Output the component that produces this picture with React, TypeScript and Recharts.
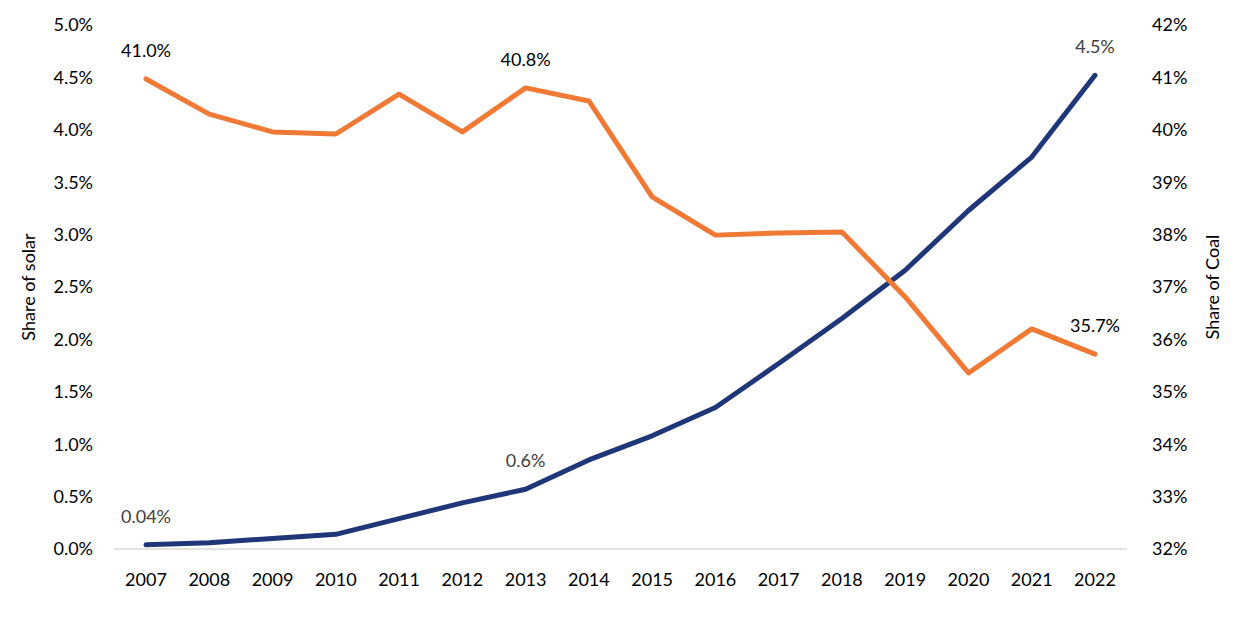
import { LabelList, Line, LineChart, XAxis, YAxis } from "recharts";

const years = ["2007", "2008", "2009", "2010", "2011", "2012", "2013", "2014", "2015", "2016", "2017", "2018", "2019", "2020", "2021", "2022"];
// share of solar, % (left axis)
const solar = [0.04, 0.06, 0.1, 0.14, 0.29, 0.44, 0.57, 0.85, 1.08, 1.35, 1.77, 2.2, 2.66, 3.23, 3.74, 4.52];
// share of coal, % (right axis)
const coal = [40.97, 40.3, 39.96, 39.92, 40.68, 39.96, 40.8, 40.55, 38.72, 37.99, 38.03, 38.05, 36.81, 35.36, 36.2, 35.72];
const solarNotes: Record<string, string> = { "2007": "0.04%", "2013": "0.6%", "2022": "4.5%" };
const coalNotes: Record<string, string> = { "2007": "41.0%", "2013": "40.8%", "2022": "35.7%" };
const solarTicks = [0, 0.5, 1, 1.5, 2, 2.5, 3, 3.5, 4, 4.5, 5];
const coalTicks = [32, 33, 34, 35, 36, 37, 38, 39, 40, 41, 42];

const data = years.map((y, i) => ({ year: y, solar: solar[i], coal: coal[i] }));

const FONT = "Lato, 'Open Sans', sans-serif";

function note(notes: Record<string, string>, fill: string) {
    return (p: any) => {
        const txt = notes[years[p.index]];
        if (!txt) return null;
        return (
            <text x={p.x} y={p.y - 22} textAnchor="middle" fontSize={18} fontFamily={FONT} fill={fill}>
                {txt}
            </text>
        );
    };
}

function axisTitle(text: string, dx: number) {
    return (p: any) => {
        const vb = p.viewBox;
        const cx = vb.x + dx;
        const cy = vb.y + vb.height / 2;
        return (
            <text x={cx} y={cy} transform={`rotate(-90 ${cx} ${cy})`} textAnchor="middle" dominantBaseline="central" fontSize={18} fontFamily={FONT} fill="#000">
                {text}
            </text>
        );
    };
}

export default function App() {
    return (
        <div style={{ width: 1242, height: 617, background: "#fff" }}>
            <style>{`body{margin:0}`}</style>
            <LineChart width={1242} height={617} data={data} margin={{ top: 25, right: 0, left: 0, bottom: 38 }}>
                <XAxis
                    dataKey="year"
                    height={30}
                    padding={{ left: 32, right: 32 }}
                    tickLine={false}
                    axisLine={{ stroke: "#D9D9D9", strokeWidth: 1.5 }}
                    tickMargin={18}
                    tick={{ fontSize: 18, fontFamily: FONT, fill: "#000" }}
                    interval={0}
                />
                <YAxis
                    yAxisId="left"
                    width={114}
                    domain={[0, 5]}
                    ticks={solarTicks}
                    tickFormatter={(v: number) => `${v.toFixed(1)}%`}
                    tickLine={false}
                    axisLine={false}
                    tickMargin={15}
                    tick={{ fontSize: 18, fontFamily: FONT, fill: "#000" }}
                    label={{ content: axisTitle("Share of solar", 28) }}
                />
                <YAxis
                    yAxisId="right"
                    orientation="right"
                    width={115}
                    domain={[32, 42]}
                    ticks={coalTicks}
                    tickFormatter={(v: number) => `${v}%`}
                    tickLine={false}
                    axisLine={false}
                    tickMargin={19}
                    tick={{ fontSize: 18, fontFamily: FONT, fill: "#000", textAnchor: "start" }}
                    label={{ content: axisTitle("Share of Coal", 85) }}
                />
                <Line
                    yAxisId="left"
                    dataKey="solar"
                    stroke="#1F3679"
                    strokeWidth={5}
                    strokeLinecap="round"
                    strokeLinejoin="round"
                    dot={false}
                    activeDot={false}
                    type="linear"
                    isAnimationActive={false}
                >
                    <LabelList dataKey="solar" content={note(solarNotes, "#404040")} />
                </Line>
                <Line
                    yAxisId="right"
                    dataKey="coal"
                    stroke="#F07A35"
                    strokeWidth={5}
                    strokeLinecap="round"
                    strokeLinejoin="round"
                    dot={false}
                    activeDot={false}
                    type="linear"
                    isAnimationActive={false}
                >
                    <LabelList dataKey="coal" content={note(coalNotes, "#000")} />
                </Line>
            </LineChart>
        </div>
    );
}
